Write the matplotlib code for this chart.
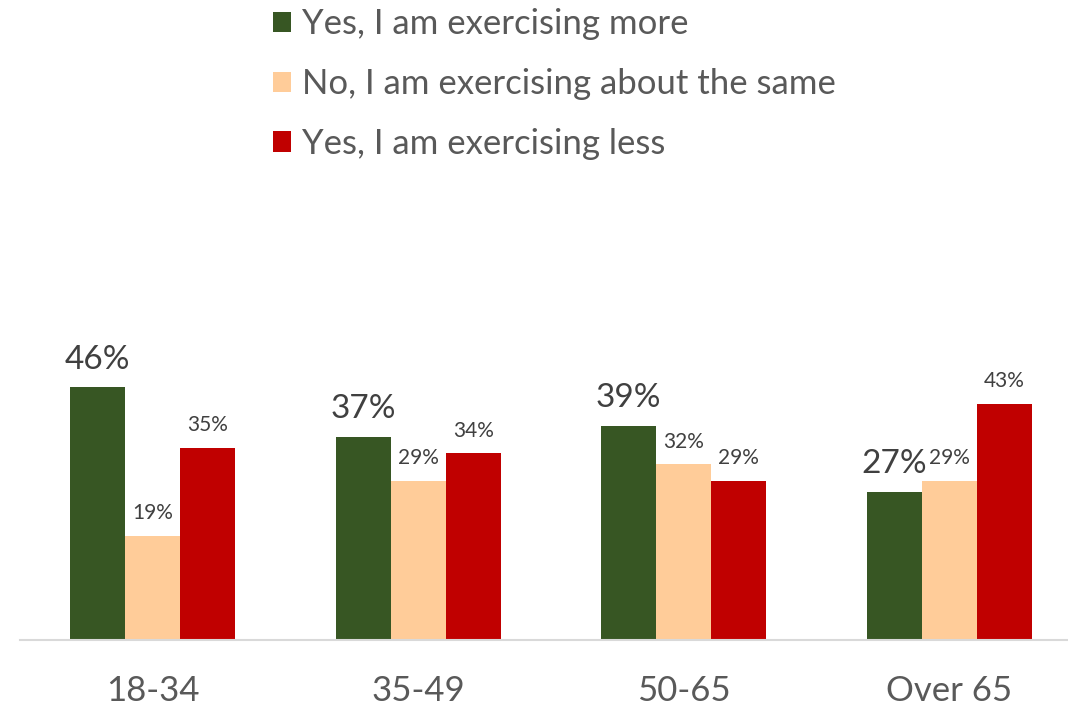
import matplotlib
matplotlib.use("Agg")
import matplotlib.pyplot as plt
import numpy as np

plt.rcParams['font.family'] = ['Lato', 'DejaVu Sans']

categories = ["18-34", "35-49", "50-65", "Over 65"]
series_names = ["Yes, I am exercising more",
                "No, I am exercising about the same",
                "Yes, I am exercising less"]
more = [46, 37, 39, 27]
same = [19, 29, 32, 29]
less = [35, 34, 29, 43]

colors = ["#375623", "#FFCC99", "#C00000"]

W, H = 1068, 706
fig = plt.figure(figsize=(W / 100, H / 100), dpi=100)
ax = fig.add_axes([20 / W, 1 - 640 / H, (W - 20) / W, 330 / H])

x = np.arange(len(categories))
bw = 0.207
series = [more, same, less]
label_sizes = [24, 15, 15]
for i, (vals, name) in enumerate(zip(series, series_names)):
    pos = x + (i - 1) * bw
    bars = ax.bar(pos, vals, width=bw, color=colors[i], label=name, zorder=2)
    for rect, v in zip(bars, vals):
        ax.annotate(f"{v}%", (rect.get_x() + rect.get_width() / 2, v),
                    xytext=(0, 9), textcoords="offset points",
                    ha="center", va="bottom", fontsize=label_sizes[i],
                    color="#404040")

ax.set_xlim(-0.5, -0.5 + (W - 20) / 265.5)
ax.set_ylim(0, 60)
ax.set_xticks(x)
ax.set_xticklabels(categories, fontsize=25, color="#595959")
ax.tick_params(axis="x", length=0, pad=25)
ax.set_yticks([])
for s in ["top", "right", "left"]:
    ax.spines[s].set_visible(False)
ax.spines["bottom"].set_color("#D9D9D9")
ax.spines["bottom"].set_linewidth(1.5)
ax.set_facecolor("none")

fig.legend(loc="upper left", bbox_to_anchor=(256 / W, 1 + 9 / H),
           frameon=False, fontsize=25, labelcolor="#595959",
           handlelength=0.52, handleheight=0.52, handletextpad=0.3,
           labelspacing=0.8, borderpad=0)

fig.savefig("out.png", dpi=100)
